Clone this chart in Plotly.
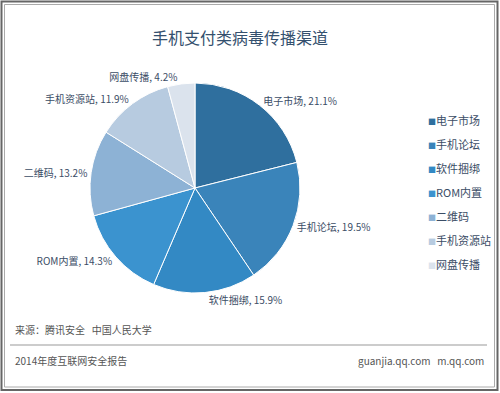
import plotly.graph_objects as go

categories = ["电子市场", "手机论坛", "软件捆绑", "ROM内置", "二维码", "手机资源站", "网盘传播"]
values = [21.1, 19.5, 15.9, 14.3, 13.2, 11.9, 4.2]
colors = ["#2f6f9e", "#3a84ba", "#3389c4", "#3b93cf", "#8db2d5", "#b7cbe0", "#dbe3ed"]

title_text = "手机支付类病毒传播渠道"
source_text = "来源：腾讯安全   中国人民大学"
report_text = "2014年度互联网安全报告"
site_text = "guanjia.qq.com   m.qq.com"

W, H = 500, 393
FONT = "Noto Sans CJK SC"

fig = go.Figure()
fig.add_trace(go.Pie(
    labels=categories,
    values=values,
    sort=False,
    direction="clockwise",
    rotation=0,
    marker=dict(colors=colors, line=dict(color="white", width=1)),
    texttemplate="%{label}, %{value}%",
    textposition="outside",
    textfont=dict(family=FONT, size=10, color="#3b4d66"),
    hoverinfo="label+value",
    domain=dict(x=[90 / W, 300 / W], y=[1 - 293 / H, 1 - 83 / H]),
    showlegend=False,
))

# legend entries: small coloured square glyph right before each category name
for i, (cat, col) in enumerate(zip(categories, colors)):
    fig.add_trace(go.Scatter(
        x=[None], y=[None], mode="markers",
        name=f"<span style='color:{col};font-size:8px'>■</span>{cat}",
        marker=dict(symbol="square", size=1, color="rgba(0,0,0,0)"),
        legendgroup=f"g{i}", showlegend=True, hoverinfo="skip",
    ))

fig.update_layout(
    width=W, height=H,
    margin=dict(l=0, r=0, t=0, b=0),
    paper_bgcolor="white",
    plot_bgcolor="white",
    xaxis=dict(visible=False),
    yaxis=dict(visible=False),
    font=dict(family=FONT, color="#3b4d66"),
    title=dict(text=title_text, x=240 / W, xanchor="center", y=1 - 38 / H, yanchor="middle",
               font=dict(family=FONT, size=16, color="#34506e")),
    legend=dict(x=388 / W, y=1 - 106 / H, xanchor="left", yanchor="top",
                font=dict(family=FONT, size=11, color="#3b4d66"),
                itemwidth=30, tracegroupgap=5, bgcolor="rgba(0,0,0,0)"),
    shapes=[
        dict(type="rect", xref="paper", yref="paper", x0=1.5 / W, x1=1 - 2.5 / W, y0=1 - 390 / H, y1=1 - 1.5 / H,
             line=dict(color="#666666", width=2)),
        dict(type="rect", xref="paper", yref="paper", x0=4.5 / W, x1=1 - 5.5 / W, y0=1 - 387 / H, y1=1 - 4.5 / H,
             line=dict(color="#aaaaaa", width=1)),
        dict(type="line", xref="paper", yref="paper", x0=10 / W, x1=487 / W, y0=1 - 345 / H, y1=1 - 345 / H,
             line=dict(color="#999999", width=1)),
    ],
    annotations=[
        dict(text=source_text, xref="paper", yref="paper", x=13 / W, y=1 - 329 / H, xanchor="left", yanchor="middle",
             showarrow=False, font=dict(family=FONT, size=10, color="#555555")),
        dict(text=report_text, xref="paper", yref="paper", x=13 / W, y=1 - 360 / H, xanchor="left", yanchor="middle",
             showarrow=False, font=dict(family=FONT, size=10, color="#555555")),
        dict(text=site_text, xref="paper", yref="paper", x=486 / W, y=1 - 360 / H, xanchor="right", yanchor="middle",
             showarrow=False, font=dict(family=FONT, size=10, color="#555555")),
    ],
)

fig.write_html("out.html", config={"displayModeBar": False},
               post_script=("document.body.style.margin='0';"
                            "document.body.style.overflow='hidden';"
                            "document.documentElement.style.overflow='hidden';"))
